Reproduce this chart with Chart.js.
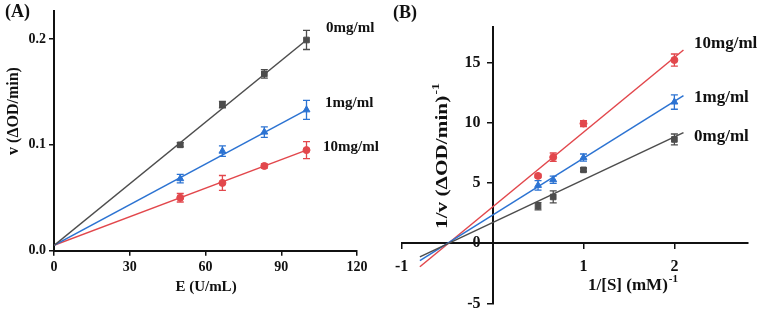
<!DOCTYPE html>
<html>
<head>
<meta charset="utf-8">
<script src="https://cdn.jsdelivr.net/npm/chart.js@4.4.0/dist/chart.umd.min.js"></script>
<style>
  body { margin: 0; background: #fff; }
  #wrap { position: relative; width: 759px; height: 316px; }
  #boxA { position: absolute; left: 0; top: 0; width: 380px; height: 316px; }
  #boxB { position: absolute; left: 380px; top: 0; width: 379px; height: 316px; }
</style>
</head>
<body>
<div id="wrap">
  <div id="boxA"><canvas id="chartA"></canvas></div>
  <div id="boxB"><canvas id="chartB"></canvas></div>
</div>
<script>
const seriesNames = ['0mg/ml', '1mg/ml', '10mg/ml'];
const seriesColors = ['#4d4d4d', '#2c73d2', '#e2474c'];
const markerStyles = ['rect', 'triangle', 'circle'];

// panel A: v against E
const enzymeE = [50, 66.7, 83.3, 100];
const rateA0 = [0.100, 0.138, 0.167, 0.199];
const rateA1 = [0.068, 0.094, 0.112, 0.133];
const rateA10 = [0.050, 0.064, 0.080, 0.095];
const errA0 = [0.002, 0.003, 0.004, 0.009];
const errA1 = [0.004, 0.005, 0.005, 0.009];
const errA10 = [0.004, 0.007, 0.002, 0.008];
const fitAx = [0, 100];
const fitA0 = [0.005, 0.199];
const fitA1 = [0.005, 0.133];
const fitA10 = [0.005, 0.095];
const ticksAx = [0, 30, 60, 90, 120];
const ticksAy = [0, 0.1, 0.2];

// panel B: double reciprocal
const invS = [0.5, 0.667, 1, 2];
const invV0 = [3.08, 3.85, 6.1, 8.63];
const invV1 = [4.81, 5.28, 7.12, 11.74];
const invV10 = [5.6, 7.15, 9.95, 15.23];
const errB0 = [0.3, 0.5, 0.15, 0.45];
const errB1 = [0.4, 0.3, 0.3, 0.6];
const errB10 = [0.15, 0.35, 0.25, 0.5];
const fitBx = [-0.8, 2.1];
const fitB0 = [-1.13, 9.20];
const fitB1 = [-1.44, 12.27];
const fitB10 = [-1.95, 16.06];
const ticksBx = [-1, 1, 2];
const ticksBy = [-5, 0, 5, 10, 15];

function pts(xs, ys) { return xs.map((x, i) => ({ x: x, y: ys[i] })); }

function buildSets(xs, ys, errs, fitX, fits) {
  let sets = [];
  for (let i = 0; i < 3; i++) {
    sets.push({
      label: seriesNames[i] + ' fit', data: pts(fitX, fits[i]),
      borderColor: seriesColors[i], borderWidth: 1.5, pointRadius: 0, showLine: true
    });
    sets.push({
      label: seriesNames[i], data: pts(xs, ys[i]), errors: errs[i],
      backgroundColor: seriesColors[i], borderColor: seriesColors[i],
      pointStyle: markerStyles[i], pointRadius: i == 2 ? 3.5 : 4, showLine: false
    });
  }
  return sets;
}

// vertical error bars with caps
const errorBars = {
  id: 'errorBars',
  beforeDatasetsDraw(chart) {
    const ctx = chart.ctx, sx = chart.scales.x, sy = chart.scales.y;
    chart.data.datasets.forEach(ds => {
      if (!ds.errors) return;
      ctx.save();
      ctx.strokeStyle = ds.borderColor;
      ctx.lineWidth = 1.3;
      ds.data.forEach((p, i) => {
        const e = ds.errors[i];
        if (!e) return;
        const px = sx.getPixelForValue(p.x);
        const top = sy.getPixelForValue(p.y + e), bot = sy.getPixelForValue(p.y - e);
        ctx.beginPath();
        ctx.moveTo(px, top); ctx.lineTo(px, bot);
        ctx.moveTo(px - 3.5, top); ctx.lineTo(px + 3.5, top);
        ctx.moveTo(px - 3.5, bot); ctx.lineTo(px + 3.5, bot);
        ctx.stroke();
      });
      ctx.restore();
    });
  }
};

// panel letters, series names and axis titles (with superscripts)
const decor = {
  id: 'decor',
  afterDraw(chart, args, opts) {
    const ctx = chart.ctx;
    (opts.items || []).forEach(it => {
      const main = 'bold ' + it.size + 'px "Liberation Serif"';
      const supFont = 'bold ' + Math.round(it.size * 0.62) + 'px "Liberation Serif"';
      ctx.save();
      ctx.fillStyle = '#111';
      ctx.textBaseline = 'middle';
      ctx.textAlign = 'left';
      ctx.translate(it.x, it.y);
      if (it.rotate) ctx.rotate(-Math.PI / 2);
      if (it.stretch) ctx.scale(it.stretch, 1);
      ctx.font = main;
      const w = ctx.measureText(it.text).width;
      let sw = 0;
      if (it.sup) { ctx.font = supFont; sw = ctx.measureText(it.sup).width + 1; ctx.font = main; }
      const x0 = it.align == 'left' ? 0 : -(w + sw) / 2;
      ctx.fillText(it.text, x0, 0);
      if (it.sup) {
        ctx.font = supFont;
        ctx.fillText(it.sup, x0 + w + 1, -it.size * 0.4);
      }
      ctx.restore();
    });
  }
};

function axis(opts) {
  return Object.assign({
    type: 'linear',
    ticks: { color: '#111', font: { family: 'Liberation Serif', weight: 'bold', size: 14 }, padding: 3 },
    grid: { drawOnChartArea: false, tickLength: 5, color: '#111', lineWidth: 1.5 },
    border: { color: '#111', width: 2 }
  }, opts);
}

let chartA = new Chart(document.getElementById('chartA').getContext('2d'), {
  type: 'scatter',
  data: { datasets: buildSets(enzymeE, [rateA0, rateA1, rateA10], [errA0, errA1, errA10], fitAx, [fitA0, fitA1, fitA10]) },
  plugins: [errorBars, decor],
  options: {
    responsive: true,
    maintainAspectRatio: false,
    animation: false,
    layout: { padding: { left: 0, right: 23, top: 7, bottom: 0 } },
    scales: {
      x: axis({
        position: 'bottom', min: 0, max: 120,
        afterBuildTicks: s => { s.ticks = ticksAx.map(v => ({ value: v })); },
        afterFit: s => { s.height = 65.3; }
      }),
      y: axis({
        position: 'left', min: 0, max: 0.226,
        afterBuildTicks: s => { s.ticks = ticksAy.map(v => ({ value: v })); },
        afterFit: s => { s.width = 54; }
      })
    },
    plugins: {
      legend: { display: false },
      tooltip: { enabled: false },
      decor: {
        items: [
          { text: '(A)', x: 5, y: 12, size: 18, align: 'left' },
          { text: 'v (\u0394OD/min)', x: 14, y: 111, size: 16, rotate: true },
          { text: 'E (U/mL)', x: 206, y: 287, size: 15 },
          { text: seriesNames[0], x: 326, y: 28, size: 15, align: 'left' },
          { text: seriesNames[1], x: 325, y: 103, size: 15, align: 'left' },
          { text: seriesNames[2], x: 323, y: 147, size: 15, align: 'left' }
        ]
      }
    }
  }
});
// ticks for panel A y axis need one decimal
chartA.options.scales.y.ticks.callback = v => v.toFixed(1);
chartA.update();

let bTickFont = { family: 'Liberation Serif', weight: 'bold', size: 16 };
let chartB = new Chart(document.getElementById('chartB').getContext('2d'), {
  type: 'scatter',
  data: { datasets: buildSets(invS, [invV0, invV1, invV10], [errB0, errB1, errB10], fitBx, [fitB0, fitB1, fitB10]) },
  plugins: [errorBars, decor],
  options: {
    responsive: true,
    maintainAspectRatio: false,
    animation: false,
    layout: { padding: { left: 21.7, right: 11, top: 26.7, bottom: 11 } },
    scales: {
      x: axis({
        position: { y: 0 }, min: -1, max: 2.81,
        afterBuildTicks: s => { s.ticks = ticksBx.map(v => ({ value: v })); },
        ticks: { color: '#111', font: Object.assign({ lineHeight: 1.7 }, bTickFont), padding: 5 }
      }),
      y: axis({
        position: { x: 0 }, min: -5, max: 18,
        afterBuildTicks: s => { s.ticks = ticksBy.map(v => ({ value: v })); },
        // centred axis ignores tick padding, so pad the label text instead
        ticks: { color: '#111', font: bTickFont, callback: v => v + '   ' }
      })
    },
    plugins: {
      legend: { display: false },
      tooltip: { enabled: false },
      decor: {
        items: [
          { text: '(B)', x: 13, y: 13, size: 18, align: 'left' },
          { text: '1/v (\u0394OD/min)', sup: '-1', x: 63, y: 156, size: 17, rotate: true, stretch: 1.25 },
          { text: '1/[S] (mM)', sup: '-1', x: 253, y: 286, size: 17 },
          { text: seriesNames[2], x: 314, y: 44, size: 17, align: 'left' },
          { text: seriesNames[1], x: 314, y: 98, size: 17, align: 'left' },
          { text: seriesNames[0], x: 314, y: 137, size: 17, align: 'left' }
        ]
      }
    }
  }
});
</script>
</body>
</html>
